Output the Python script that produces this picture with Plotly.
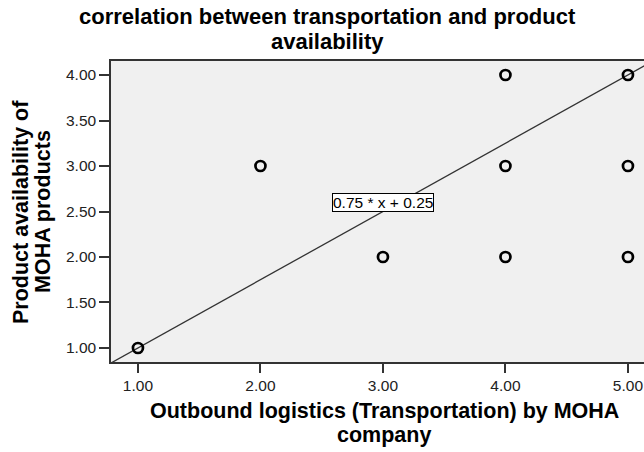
import plotly.graph_objects as go

# Data
x_vals = [1, 2, 3, 4, 4, 4, 5, 5, 5]
y_vals = [1, 3, 2, 4, 3, 2, 4, 3, 2]
fit_slope = 0.75
fit_intercept = 0.25
fit_label = "0.75 * x + 0.25"
x_ticks = [1, 2, 3, 4, 5]
y_ticks = [1.0, 1.5, 2.0, 2.5, 3.0, 3.5, 4.0]
title_lines = ["correlation between transportation and product", "availability"]
x_title_lines = ["Outbound logistics (Transportation) by MOHA", "company"]
y_title_lines = ["Product availability of", "MOHA products"]

x_range = [0.78, 5.131]
y_range = [0.846, 4.154]

FONT = "Liberation Sans, Arial, sans-serif"
W, H = 644, 452
L, R, T, B = 111, 0, 61, 90
PW, PH = W - L - R, H - T - B


def px(xp):
    return (xp - L) / PW


def py(yp):
    return 1 - (yp - T) / PH


line_x = [0.78, 5.22]
line_y = [fit_slope * v + fit_intercept for v in line_x]

fig = go.Figure()
fig.add_trace(go.Scatter(x=line_x, y=line_y, mode="lines",
                         line=dict(color="#333333", width=1.3),
                         hoverinfo="skip", showlegend=False))
fig.add_trace(go.Scatter(x=x_vals, y=y_vals, mode="markers",
                         marker=dict(symbol="circle-open", size=10, color="black",
                                     line=dict(width=2.7, color="black")),
                         showlegend=False))

fig.add_annotation(x=3.0, y=fit_slope * 3.0 + fit_intercept, xref="x", yref="y",
                   text=fit_label, showarrow=False, yanchor="bottom", xanchor="center",
                   font=dict(family=FONT, size=15.5, color="black"),
                   bgcolor="white", bordercolor="black", borderwidth=1, borderpad=0)

# main title (two lines)
for txt, yc in zip(title_lines, [17, 41]):
    fig.add_annotation(x=px(W / 2 + 5), y=py(yc), xref="paper", yref="paper",
                       text="<b>" + txt + "</b>", showarrow=False,
                       xanchor="center", yanchor="middle",
                       font=dict(family=FONT, size=22, color="black"))

# x axis title
for txt, yc in zip(x_title_lines, [411, 435]):
    fig.add_annotation(x=px(384), y=py(yc), xref="paper", yref="paper",
                       text="<b>" + txt + "</b>", showarrow=False,
                       xanchor="center", yanchor="middle",
                       font=dict(family=FONT, size=21.5, color="black"))

# y axis title
for txt, xc in zip(y_title_lines, [21, 43]):
    fig.add_annotation(x=px(xc), y=py(212), xref="paper", yref="paper",
                       text="<b>" + txt + "</b>", showarrow=False, textangle=-90,
                       xanchor="center", yanchor="middle",
                       font=dict(family=FONT, size=21.5, color="black"))

fig.update_layout(
    width=W, height=H,
    margin=dict(l=L, r=R, t=T, b=B),
    paper_bgcolor="white", plot_bgcolor="#F0F0F0",
    font=dict(family=FONT, color="#222222"),
)

fig.update_xaxes(range=x_range, tickvals=x_ticks, tickformat=".2f",
                 showgrid=False, zeroline=False, showline=True, mirror=True,
                 linecolor="#333333", linewidth=1.5, ticks="outside", ticklen=9,
                 tickwidth=1.5, tickcolor="#333333",
                 tickfont=dict(family=FONT, size=15.5, color="#222222"))
fig.update_yaxes(range=y_range, tickvals=y_ticks, tickformat=".2f",
                 showgrid=False, zeroline=False, showline=True, mirror=False,
                 linecolor="#333333", linewidth=1.5, ticks="outside", ticklen=10,
                 tickwidth=1.5, tickcolor="#333333",
                 tickfont=dict(family=FONT, size=15.5, color="#222222"))

fig.write_html("out.html")
